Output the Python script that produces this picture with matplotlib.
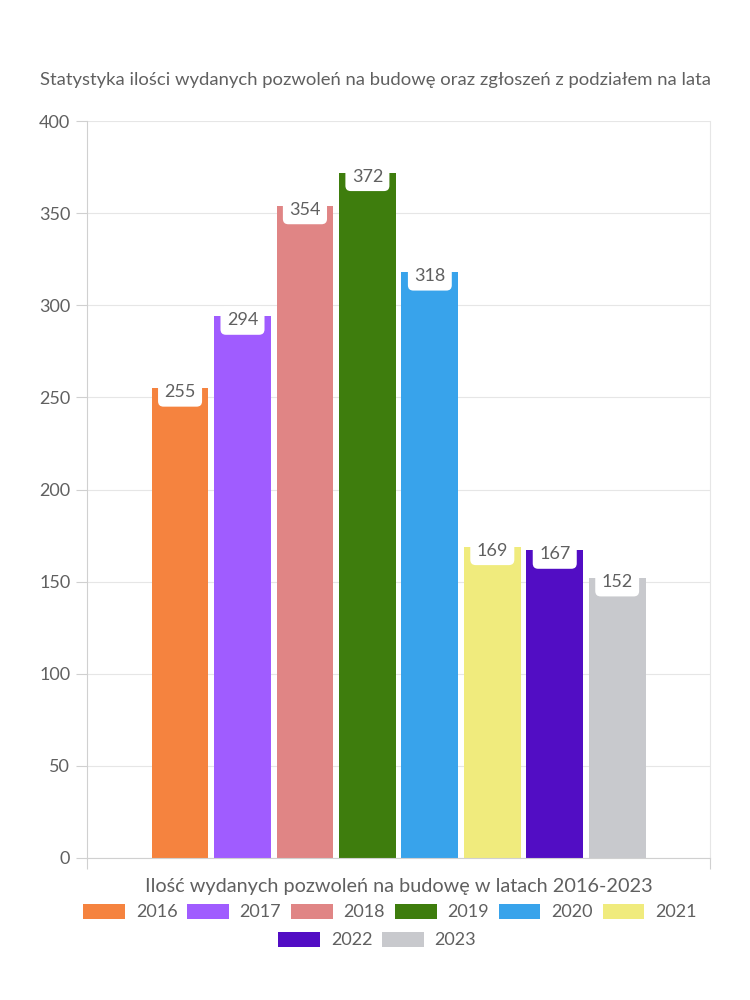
import matplotlib
matplotlib.use('Agg')
from matplotlib import pyplot as plt
from matplotlib.patches import Patch

##### Data #####
years = ['2016', '2017', '2018', '2019', '2020', '2021', '2022', '2023']
permits = [255, 294, 354, 372, 318, 169, 167, 152]
colors = ['#F5833F', '#A05CFF', '#E08585', '#3E7D0D',
          '#38A3EB', '#F0EB7D', '#520DC4', '#C8C9CD']

plt.rcParams['font.family'] = ['Lato', 'DejaVu Sans']
TXT = '#606060'

fig = plt.figure(figsize=(7.5, 10), dpi=100)
ax = fig.add_axes([0.116, 0.142, 0.831, 0.737])

pos = list(range(len(years)))
bars = ax.bar(pos, permits, width=0.91, color=colors, zorder=2)

##### Value labels #####
for x, v in zip(pos, permits):
    ax.annotate(str(v), (x, v), xytext=(0, -3), textcoords='offset points',
                ha='center', va='center', fontsize=13, color=TXT, zorder=3,
                bbox=dict(boxstyle='round,pad=0.35,rounding_size=0.3',
                          fc='white', ec='none'))

ax.set_ylim(0, 400)
ax.set_xlim(-1.49, 8.49)
ax.set_yticks(range(0, 401, 50))
ax.set_xticks([-1.49, 8.49])
ax.set_xticklabels([])
ax.tick_params(axis='y', length=8, color='#d0d0d0', labelsize=13, labelcolor=TXT, pad=4)
ax.tick_params(axis='x', length=8, color='#d0d0d0')
ax.grid(axis='y', color='#e6e6e6', linewidth=0.8, zorder=0)

ax.spines['top'].set_visible(False)
ax.spines['right'].set_color('#e6e6e6')
ax.spines['left'].set_color('#d0d0d0')
ax.spines['bottom'].set_color('#d0d0d0')

fig.text(0.5, 0.92, 'Statystyka ilości wydanych pozwoleń na budowę oraz zgłoszeń z podziałem na lata',
         ha='center', va='center', fontsize=13.3, color=TXT)
ax.set_xlabel('Ilość wydanych pozwoleń na budowę w latach 2016-2023',
              fontsize=14.3, color=TXT, labelpad=3)

##### Legend (two centered rows) #####
handles = [Patch(facecolor=c, edgecolor='none') for c in colors]
leg_kw = dict(frameon=False, fontsize=13, labelcolor=TXT, handlelength=2.3,
              handleheight=0.95, handletextpad=0.6, columnspacing=0.55)
fig.legend(handles[:6], years[:6], ncol=6, loc='center',
           bbox_to_anchor=(0.52, 0.088), **leg_kw)
fig.legend(handles[6:], years[6:], ncol=2, loc='center',
           bbox_to_anchor=(0.503, 0.06), **leg_kw)

plt.savefig('out.png')
